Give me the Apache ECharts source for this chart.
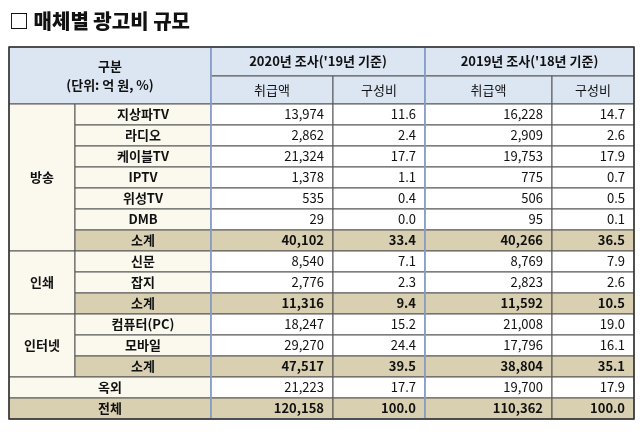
<!DOCTYPE html>
<html>
<head>
<meta charset="utf-8">
<script src="https://cdn.jsdelivr.net/npm/echarts@6/dist/echarts.min.js"></script>
<style>html,body{margin:0;background:#fff}#chart{width:644px;height:432px}</style>
</head>
<body>
<div id="chart"></div>
<script>
// 표 데이터
const groups = ['방송', '인쇄', '인터넷'];
const groupSpans = [7, 3, 3];
const items = ['지상파TV', '라디오', '케이블TV', 'IPTV', '위성TV', 'DMB', '소계',
               '신문', '잡지', '소계', '컴퓨터(PC)', '모바일', '소계', '옥외', '전체'];
const amt2020 = ['13,974', '2,862', '21,324', '1,378', '535', '29', '40,102',
                 '8,540', '2,776', '11,316', '18,247', '29,270', '47,517', '21,223', '120,158'];
const pct2020 = ['11.6', '2.4', '17.7', '1.1', '0.4', '0.0', '33.4',
                 '7.1', '2.3', '9.4', '15.2', '24.4', '39.5', '17.7', '100.0'];
const amt2019 = ['16,228', '2,909', '19,753', '775', '506', '95', '40,266',
                 '8,769', '2,823', '11,592', '21,008', '17,796', '38,804', '19,700', '110,362'];
const pct2019 = ['14.7', '2.6', '17.9', '0.7', '0.5', '0.1', '36.5',
                 '7.9', '2.6', '10.5', '19.0', '16.1', '35.1', '17.9', '100.0'];
const headTop = ['2020년 조사(\'19년 기준)', '2019년 조사(\'18년 기준)'];
const headSub = ['취급액', '구성비'];

// 레이아웃 (px 단위 축)
const colEdges = [0, 66, 202, 324, 416, 543, 625];
const rowEdges = [0, 29, 57];
for (let i = 0; i < items.length; i++) rowEdges.push(57 + 21 * (i + 1));

const BLUE = '#dce6f2', TAN = '#d9d0b2', CREAM = '#fbf9ee', WHITE = '#ffffff';
const cells = [];
function cell(c0, c1, r0, r1, fill, text, align, bold) {
  cells.push({c0, c1, r0, r1, fill, text, align, bold});
}
cell(0, 2, 0, 2, BLUE, '구분\n(단위: 억 원, %)', 'center', true);
cell(2, 4, 0, 1, BLUE, headTop[0], 'center', true);
cell(4, 6, 0, 1, BLUE, headTop[1], 'center', true);
for (let k = 0; k < 4; k++) cell(2 + k, 3 + k, 1, 2, BLUE, headSub[k % 2], 'center', false);
let r = 2;
groups.forEach((g, gi) => {
  cell(0, 1, r, r + groupSpans[gi], CREAM, g, 'center', true);
  r += groupSpans[gi];
});
items.forEach((name, i) => {
  const row = i + 2;
  const isSum = name === '소계' || name === '전체';
  const fill = isSum ? TAN : WHITE;
  if (i >= 13) cell(0, 2, row, row + 1, isSum ? TAN : CREAM, name, 'center', true);
  else cell(1, 2, row, row + 1, isSum ? TAN : CREAM, name, 'center', true);
  [amt2020, pct2020, amt2019, pct2019].forEach((arr, k) => {
    cell(2 + k, 3 + k, row, row + 1, fill, arr[i], 'right', isSum);
  });
});

const chart = echarts.init(document.getElementById('chart'));
chart.setOption({
  animation: false,
  title: {
    text: '□ 매체별 광고비 규모', left: 4, top: 6,
    textStyle: {fontFamily: 'Noto Sans CJK KR', fontSize: 20, fontWeight: 900, color: '#111'}
  },
  grid: {left: 9, right: 10, top: 47, bottom: 13},
  xAxis: {type: 'value', min: 0, max: 625, show: false},
  yAxis: {type: 'value', min: 0, max: rowEdges[rowEdges.length - 1], inverse: true, show: false},
  series: [{
    type: 'custom',
    coordinateSystem: 'cartesian2d',
    data: cells.map(c => [(colEdges[c.c0] + colEdges[c.c1]) / 2, (rowEdges[c.r0] + rowEdges[c.r1]) / 2]),
    renderItem: function (params, api) {
      const c = cells[params.dataIndex];
      const p0 = api.coord([colEdges[c.c0], rowEdges[c.r0]]);
      const p1 = api.coord([colEdges[c.c1], rowEdges[c.r1]]);
      const w = p1[0] - p0[0], h = p1[1] - p0[1];
      return {
        type: 'group',
        children: [{
          type: 'rect',
          shape: {x: p0[0], y: p0[1], width: w, height: h},
          style: {fill: c.fill, stroke: '#555', lineWidth: 1}
        }, {
          type: 'text',
          style: {
            text: c.text,
            x: c.align === 'right' ? p1[0] - 9 : p0[0] + w / 2,
            y: p0[1] + h / 2,
            align: c.align, verticalAlign: 'middle',
            fontFamily: 'Noto Sans CJK KR', fontSize: 13, lineHeight: 19,
            fontWeight: c.bold ? 'bold' : 'normal', fill: '#111'
          }
        }]
      };
    }
  }, {
    // 2020년 열 파란 테두리 및 외곽선
    type: 'custom',
    coordinateSystem: 'cartesian2d',
    data: [[0, 0]],
    silent: true,
    renderItem: function (params, api) {
      const top = rowEdges[0], bot = rowEdges[rowEdges.length - 1];
      const a = api.coord([colEdges[2], top]), b = api.coord([colEdges[4], bot]);
      const o0 = api.coord([0, top]), o1 = api.coord([625, bot]);
      return {
        type: 'group',
        children: [{
          type: 'rect', shape: {x: a[0], y: a[1], width: b[0] - a[0], height: b[1] - a[1]},
          style: {fill: 'none', stroke: '#8eaadb', lineWidth: 1.5}
        }, {
          type: 'rect', shape: {x: o0[0], y: o0[1], width: o1[0] - o0[0], height: o1[1] - o0[1]},
          style: {fill: 'none', stroke: '#333', lineWidth: 1.5}
        }]
      };
    }
  }]
});
</script>
</body>
</html>
